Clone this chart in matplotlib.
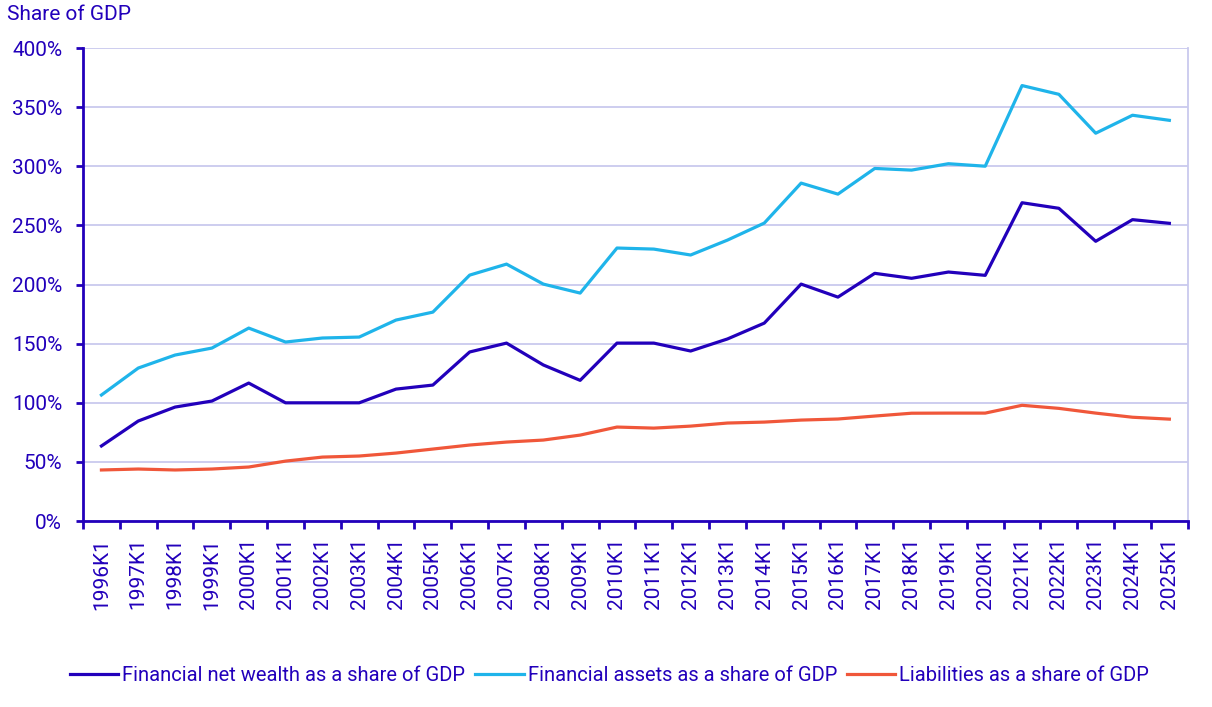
import numpy as np
import matplotlib.pyplot as plt
from matplotlib.ticker import FixedLocator, FuncFormatter

plt.rcParams['font.family'] = ['Roboto', 'DejaVu Sans']

years = [str(y) + "K1" for y in range(1996, 2026)]

# Financial net wealth as a share of GDP (%)
net_wealth = [63.5, 84.6, 96.4, 101.5, 116.7, 100, 100, 100, 111.6, 115,
              143, 150.5, 132, 119, 150.5, 150.5, 143.8, 154, 167.4, 200.4,
              189.4, 209.5, 205.3, 210.6, 207.8, 269.2, 264.5, 236.6, 254.9, 251.8]

# Financial assets as a share of GDP (%)
assets = [106.6, 129.4, 140.4, 146.3, 163.2, 151.4, 154.8, 155.6, 170, 176.7,
          208, 217.3, 200.4, 192.8, 230.9, 230, 225, 237.6, 252, 285.8,
          276.5, 298.2, 296.8, 302.2, 300.1, 368.3, 360.9, 328, 343.2, 338.9]

# Liabilities as a share of GDP (%)
liabilities = [43.2, 44, 43.2, 44, 45.7, 50.7, 54.1, 55, 57.5, 60.9,
               64.3, 66.8, 68.5, 72.7, 79.5, 78.6, 80.3, 82.9, 83.7, 85.4,
               86.3, 88.8, 91.2, 91.3, 91.3, 97.9, 95.3, 91.3, 87.8, 86.2]

dark = "#2200bb"
light = "#1fb4ea"
orange = "#f0573a"
grid_c = "#c9c9ee"

fig = plt.figure(figsize=(12.12, 7.07), dpi=100)
ax = fig.add_axes([0.0685, 0.263, 0.9115, 0.669])

x = np.arange(len(years))
ax.plot(x, net_wealth, color=dark, lw=2.3, label="Financial net wealth as a share of GDP")
ax.plot(x, assets, color=light, lw=2.3, label="Financial assets as a share of GDP")
ax.plot(x, liabilities, color=orange, lw=2.3, label="Liabilities as a share of GDP")

ax.set_xlim(-0.5, len(years) - 0.5)
ax.set_ylim(0, 400)
ax.set_yticks(np.arange(0, 401, 50))
ax.yaxis.set_major_formatter(FuncFormatter(lambda v, p: "%d%%" % v))
ax.yaxis.grid(True, color=grid_c, lw=1.3)
ax.set_axisbelow(True)

# ticks at category boundaries, labels at centres
ax.xaxis.set_major_locator(FixedLocator(np.arange(-0.5, len(years), 1.0)))
ax.xaxis.set_major_formatter(FuncFormatter(lambda v, p: ""))
ax.xaxis.set_minor_locator(FixedLocator(x))
ax.set_xticklabels(years, minor=True, rotation=90)
ax.tick_params(axis='x', which='major', length=6, width=2, color=dark)
ax.tick_params(axis='x', which='minor', length=0, labelsize=15, labelcolor=dark, pad=12)
ax.tick_params(axis='y', length=5, width=2, color=dark, labelsize=15, labelcolor=dark, pad=10)

ax.spines['top'].set_visible(False)
ax.spines['right'].set_color(grid_c)
ax.spines['right'].set_linewidth(1.3)
ax.spines['left'].set_color(dark)
ax.spines['left'].set_linewidth(2)
ax.spines['bottom'].set_color(dark)
ax.spines['bottom'].set_linewidth(2)

fig.text(0.006, 0.98, "Share of GDP", color=dark, fontsize=15, va='center', ha='left')

leg = fig.legend(loc='center', bbox_to_anchor=(0.503, 0.045), ncol=3, frameon=False,
                 fontsize=14.5, handlelength=2.4, handletextpad=0.2, columnspacing=0.5)
for t in leg.get_texts():
    t.set_color(dark)

fig.savefig("out.png", dpi=100)
